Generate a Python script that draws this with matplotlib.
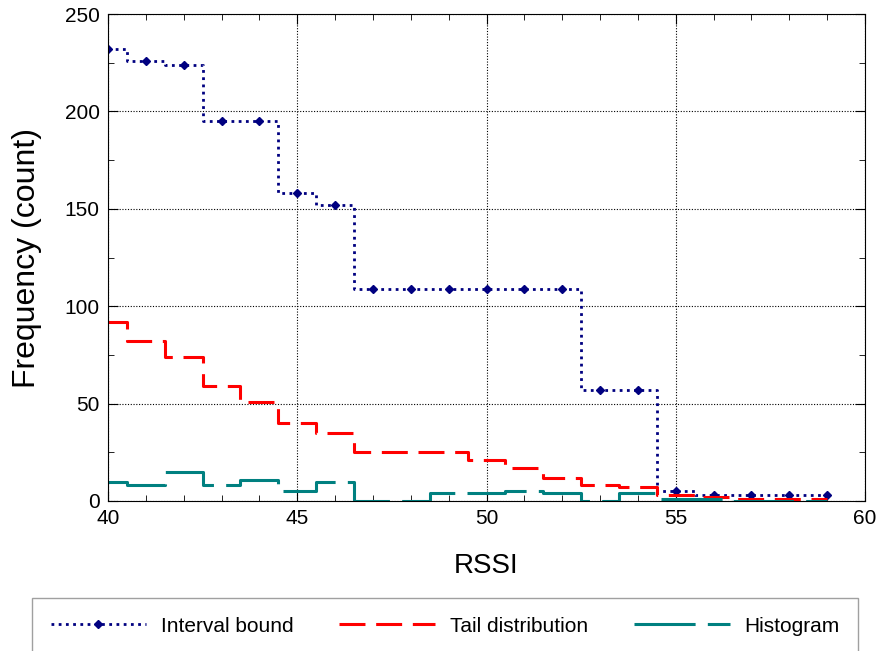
import numpy as np
import matplotlib
matplotlib.use("Agg")
import matplotlib.pyplot as plt
from matplotlib.ticker import MultipleLocator

plt.rcParams['font.family'] = ['Liberation Sans', 'DejaVu Sans']

# RSSI bins and the three series
rssi = list(range(40, 60))
interval_bound = [232, 226, 224, 195, 195, 158, 152, 109, 109, 109,
                  109, 109, 109, 57, 57, 5, 3, 3, 3, 3]
tail_dist = [92, 82, 74, 59, 51, 40, 35, 25, 25, 25,
             21, 17, 12, 8, 7, 3, 2, 1, 1, 1]
histogram = [10, 8, 15, 8, 11, 5, 10, 0, 0, 4,
             4, 5, 4, 0, 4, 1, 1, 0, 0, 0]

fig = plt.figure(figsize=(8.81, 6.51), dpi=100)
ax = fig.add_axes([108 / 881, 1 - 501 / 651, (865 - 108) / 881, (501 - 14) / 651])

ax.step(rssi, interval_bound, where='mid', color='#000080', linestyle=(0, (1, 1.6)),
        linewidth=2, marker='D', markersize=4, label='Interval bound')
ax.step(rssi, tail_dist, where='mid', color='#ff0000', linestyle=(0, (8.5, 3.5)),
        linewidth=2.2, label='Tail distribution')
ax.step(rssi, histogram, where='mid', color='#008080', linestyle=(0, (20, 4)),
        linewidth=2.2, label='Histogram')

ax.set_xlim(40, 60)
ax.set_ylim(0, 250)
ax.xaxis.set_major_locator(MultipleLocator(5))
ax.xaxis.set_minor_locator(MultipleLocator(1))
ax.yaxis.set_major_locator(MultipleLocator(50))
ax.yaxis.set_minor_locator(MultipleLocator(25))
ax.tick_params(which='both', direction='in', top=True, right=True, labelsize=15, pad=6)
ax.tick_params(which='major', length=7)
ax.tick_params(which='minor', length=4)
ax.grid(True, which='major', color='black', linestyle=(0, (1, 1.5)), linewidth=0.8)
for s in ax.spines.values():
    s.set_color('black')

ax.set_xlabel('RSSI', fontsize=20, labelpad=18)
ax.set_ylabel('Frequency (count)', fontsize=23, labelpad=16)

leg = fig.legend(loc='upper center', bbox_to_anchor=(445 / 881, 1 - 598 / 651),
                 borderaxespad=0, ncol=3, fontsize=15, handlelength=4.6,
                 columnspacing=2.2, handletextpad=0.7, numpoints=1,
                 fancybox=False, borderpad=0.9, frameon=True)
leg.get_frame().set_edgecolor('#888888')
leg.get_frame().set_linewidth(1.0)

fig.savefig('out.png', dpi=100)
